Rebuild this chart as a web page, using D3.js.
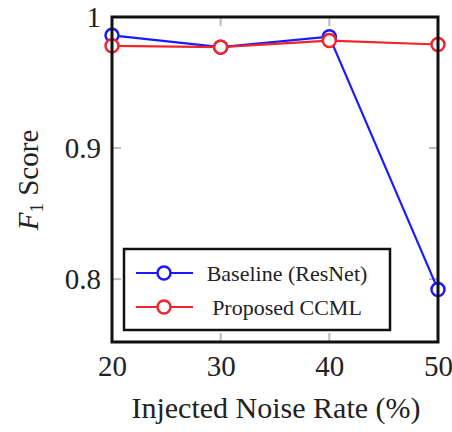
<!DOCTYPE html>
<html>
<head>
<meta charset="utf-8">
<script src="https://cdn.jsdelivr.net/npm/d3@7"></script>
<style>
  body { margin: 0; background: #fff; }
  text { font-family: "Liberation Serif", "DejaVu Serif", serif; fill: #222; }
</style>
</head>
<body>
<svg id="chart" width="452" height="432"></svg>
<script>
// data
var noiseRates = [20, 30, 40, 50];
var baseline = [0.986, 0.977, 0.985, 0.792];
var proposed = [0.978, 0.977, 0.982, 0.979];
var yTicks = [0.8, 0.9, 1];
var seriesNames = ["Baseline (ResNet)", "Proposed CCML"];

var svg = d3.select("#chart"),
    pLeft = 112, pRight = 438, pTop = 17, pBottom = 342;

var x = d3.scaleLinear().domain([20, 50]).range([pLeft, pRight]);
var y = d3.scaleLinear().domain([0.752, 1]).range([pBottom, pTop]);

var series = [
  { name: seriesNames[0], values: baseline, color: "#1a1aff" },
  { name: seriesNames[1], values: proposed, color: "#f0242a" }
];

// grey inward ticks
var g = svg.append("g");
noiseRates.forEach(function(v) {
  g.append("line").attr("x1", x(v)).attr("x2", x(v)).attr("y1", pTop).attr("y2", pTop + 9)
    .attr("stroke", "#bbb").attr("stroke-width", 2);
  g.append("line").attr("x1", x(v)).attr("x2", x(v)).attr("y1", pBottom).attr("y2", pBottom - 9)
    .attr("stroke", "#bbb").attr("stroke-width", 2);
});
yTicks.forEach(function(v) {
  g.append("line").attr("x1", pLeft).attr("x2", pLeft + 9).attr("y1", y(v)).attr("y2", y(v))
    .attr("stroke", "#bbb").attr("stroke-width", 2);
  g.append("line").attr("x1", pRight).attr("x2", pRight - 9).attr("y1", y(v)).attr("y2", y(v))
    .attr("stroke", "#bbb").attr("stroke-width", 2);
});

// tick labels via d3 axes (no lines)
var xAxis = svg.append("g").attr("transform", "translate(0," + pBottom + ")")
  .call(d3.axisBottom(x).tickValues(noiseRates).tickSize(0).tickPadding(13));
xAxis.select(".domain").remove();
xAxis.selectAll("text").style("font-size", "29px").style("font-family", "Liberation Serif, serif").attr("fill", "#222");

var yAxis = svg.append("g").attr("transform", "translate(" + pLeft + ",0)")
  .call(d3.axisLeft(y).tickValues(yTicks).tickSize(0).tickPadding(11).tickFormat(function(d) { return d === 1 ? "1" : d3.format(".1f")(d); }));
yAxis.select(".domain").remove();
yAxis.selectAll("text").style("font-size", "29px").style("font-family", "Liberation Serif, serif").attr("fill", "#222");

// lines
var line = d3.line().x(function(d, i) { return x(noiseRates[i]); }).y(function(d) { return y(d); });

series.forEach(function(s) {
  svg.append("path").datum(s.values).attr("d", line)
    .attr("fill", "none").attr("stroke", s.color).attr("stroke-width", 2.2);
});
series.forEach(function(s) {
  svg.selectAll(null).data(s.values).enter().append("circle")
    .attr("cx", function(d, i) { return x(noiseRates[i]); })
    .attr("cy", function(d) { return y(d); })
    .attr("r", 6.5)
    .attr("fill", "#fff").attr("stroke", s.color).attr("stroke-width", 2.5);
});

// frame
svg.append("rect").attr("x", pLeft).attr("y", pTop).attr("width", pRight - pLeft).attr("height", pBottom - pTop)
  .attr("fill", "none").attr("stroke", "#111").attr("stroke-width", 3);

// legend
var lg = svg.append("g");
lg.append("rect").attr("x", 124).attr("y", 249).attr("width", 266).attr("height", 81)
  .attr("fill", "#fff").attr("stroke", "#111").attr("stroke-width", 2.5);
series.forEach(function(s, i) {
  var ly = 273 + i * 34;
  lg.append("line").attr("x1", 136).attr("x2", 193).attr("y1", ly).attr("y2", ly)
    .attr("stroke", s.color).attr("stroke-width", 2.2);
  lg.append("circle").attr("cx", 164).attr("cy", ly).attr("r", 6.5)
    .attr("fill", "#fff").attr("stroke", s.color).attr("stroke-width", 2.5);
  lg.append("text").attr("x", 287).attr("y", ly).attr("dy", "0.35em")
    .attr("text-anchor", "middle").style("font-size", "22px").text(s.name);
});

// axis titles
svg.append("text").attr("x", 276).attr("y", 418).attr("text-anchor", "middle")
  .style("font-size", "30px").text("Injected Noise Rate (%)");

var yl = svg.append("text").attr("transform", "translate(38,180) rotate(-90)")
  .attr("text-anchor", "middle").style("font-size", "29px");
yl.append("tspan").style("font-style", "italic").text("F");
yl.append("tspan").attr("dy", 5).style("font-size", "19px").text("1");
yl.append("tspan").attr("dy", -5).text(" Score");
</script>
</body>
</html>
